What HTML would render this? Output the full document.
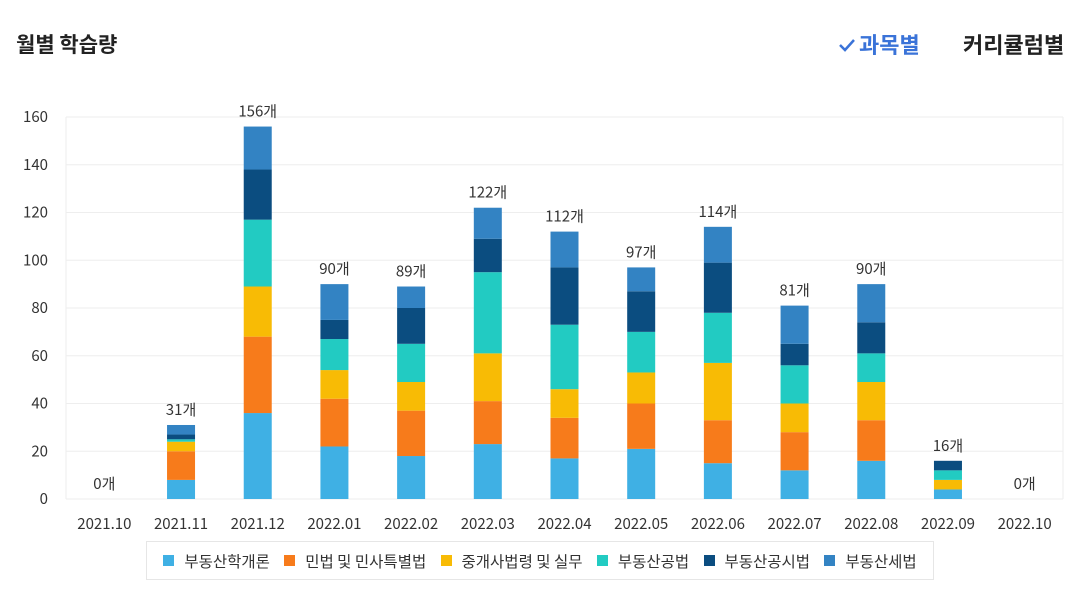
<!DOCTYPE html>
<html><head><meta charset="utf-8"><style>
body{margin:0;width:1091px;height:607px;background:#fff;font-family:"Noto Sans CJK KR","Liberation Sans",sans-serif;overflow:hidden;position:relative}
.t{position:absolute;top:29px;left:16px;font-size:21px;font-weight:bold;color:#222;line-height:30px}
.tab{position:absolute;top:29px;font-size:22px;font-weight:bold;line-height:30px}
#legend{position:absolute;left:146px;top:541px;width:788px;height:39px;border:1px solid #e6e6e6;display:flex;align-items:center;justify-content:space-evenly;font-size:15.5px;color:#333;padding:0 2px;box-sizing:border-box}
.li{display:flex;align-items:center}
.sw{width:11px;height:11px;margin-right:10px}
svg text{font-family:"Noto Sans CJK KR","Liberation Sans",sans-serif}
</style></head><body>
<div class="t">월별 학습량</div>
<div class="tab" style="left:838px;color:#3a73d8"><svg width="18" height="14" style="vertical-align:1px;margin-right:3px"><path d="M2 7 L7 12 L16 2" stroke="#3a73d8" stroke-width="2.5" fill="none"/></svg>과목별</div>
<div class="tab" style="left:963px;color:#222">커리큘럼별</div>
<svg id="chart" width="1091" height="540" style="position:absolute;left:0;top:0"></svg>
<div id="legend"></div>
<script>
const categories=["2021.10","2021.11","2021.12","2022.01","2022.02","2022.03","2022.04","2022.05","2022.06","2022.07","2022.08","2022.09","2022.10"];
const seriesNames=["부동산학개론","민법 및 민사특별법","중개사법령 및 실무","부동산공법","부동산공시법","부동산세법"];
const colors=["#3fb0e4","#f77b1b","#f8bb05","#22cbc2","#0b4d80","#3383c3"];
const s1=[0,8,36,22,18,23,17,21,15,12,16,4,0];
const s2=[0,12,32,20,19,18,17,19,18,16,17,0,0];
const s3=[0,4,21,12,12,20,12,13,24,12,16,4,0];
const s4=[0,1,28,13,16,34,27,17,21,16,12,4,0];
const s5=[0,2,21,8,15,14,24,17,21,9,13,4,0];
const s6=[0,4,18,15,9,13,15,10,15,16,16,0,0];
const series=[s1,s2,s3,s4,s5,s6];
const yTicks=[0,20,40,60,80,100,120,140,160];
const NS="http://www.w3.org/2000/svg";
const svg=document.getElementById('chart');
const L=66,R=1063,B=499,T=117,yMax=160;
const y=v=>B-(v/yMax)*(B-T);
const band=(R-L)/categories.length;
const x=i=>L+band*(i+0.5);
function mk(t,a){const e=document.createElementNS(NS,t);for(const k in a)e.setAttribute(k,a[k]);svg.appendChild(e);return e;}
yTicks.forEach(v=>{
 const g=mk('line',{x1:L,x2:R,y1:y(v),y2:y(v),stroke:'#eeeeee','stroke-width':1});
 
 
 const t=mk('text',{x:48,y:y(v)+5,'text-anchor':'end','font-size':15,fill:'#333'});
 t.textContent=v;
 
 
});
mk('line',{x1:L,x2:L,y1:T,y2:B,stroke:'#eeeeee'});
mk('line',{x1:R,x2:R,y1:T,y2:B,stroke:'#eeeeee'});
categories.forEach((c,i)=>{
 const t=mk('text',{x:x(i),y:529,'text-anchor':'middle','font-size':15,fill:'#333'});
 t.textContent=c;
 
 
 let cum=0;
 series.forEach((s,k)=>{
  const v=s[i]; if(v<=0)return;
  const r=mk('rect',{x:x(i)-14,y:y(cum+v),width:28,height:y(cum)-y(cum+v),fill:colors[k]});
  
  
  cum+=v;
 });
 const lb=mk('text',{x:x(i),y:y(cum)-10,'text-anchor':'middle','font-size':15,fill:'#333'});
 lb.textContent=cum+'개';
 
 
});
const lg=document.getElementById('legend');
seriesNames.forEach((n,k)=>{
 const d=document.createElement('div');d.className='li';
 
 
 d.innerHTML='<span class="sw" style="background:'+colors[k]+'"></span>'+n;
 lg.appendChild(d);
});
</script>
</body></html>
